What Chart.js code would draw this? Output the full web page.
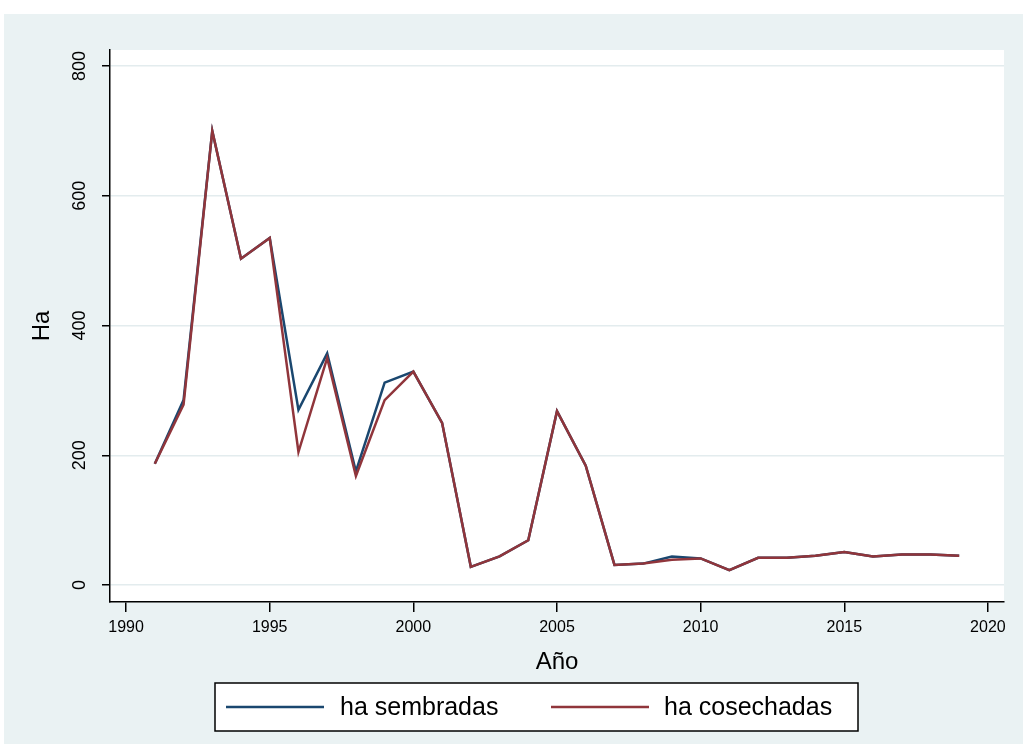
<!DOCTYPE html>
<html>
<head>
<meta charset="utf-8">
<script src="https://cdn.jsdelivr.net/npm/chart.js@4.4.1/dist/chart.umd.min.js"></script>
<style>
    html, body { margin: 0; padding: 0; background: #ffffff; }
    canvas { display: block; }
</style>
</head>
<body>
<canvas id="chart" width="1023" height="744"></canvas>
<script>
// values
var years      = [ 1991, 1992, 1993, 1994, 1995, 1996, 1997, 1998, 1999, 2000,
                   2001, 2002, 2003, 2004, 2005, 2006, 2007, 2008, 2009, 2010,
                   2011, 2012, 2013, 2014, 2015, 2016, 2017, 2018, 2019 ];
var sembradas  = [ 187, 285, 700, 503, 535, 270, 357, 175, 312, 329,
                   250, 28, 44, 69, 268, 184, 31, 33, 44, 41,
                   23, 42, 42, 45, 51, 44, 47, 47, 45 ];
var cosechadas = [ 187, 278, 700, 503, 535, 205, 350, 168, 285, 329,
                   250, 28, 44, 69, 268, 184, 31, 33, 39, 41,
                   23, 42, 42, 45, 51, 44, 47, 47, 45 ];
var xTicks = [ 1990, 1995, 2000, 2005, 2010, 2015, 2020 ];
var yTicks = [ 0, 200, 400, 600, 800 ];
var seriesNames  = [ 'ha sembradas', 'ha cosechadas' ];
var seriesColors = [ '#1a476f', '#90353b' ];

var FONT = '"Liberation Sans", Arial, sans-serif';
var BG   = '#eaf2f3';

function points( ys ) {
    return years.map( function( year, i ) { return { x: year, y: ys[ i ] }; } );
}

/** Stata style backgrounds: outer region and white plot region */
var backgroundPlugin = {
    id: 'background',
    beforeDraw: function( chart ) {
        var ctx = chart.ctx, area = chart.chartArea;
        ctx.save();
        ctx.fillStyle = '#ffffff';
        ctx.fillRect( 0, 0, chart.width, chart.height );
        ctx.fillStyle = BG;
        ctx.fillRect( 4, 14, chart.width - 4, chart.height - 14 );
        ctx.fillStyle = '#ffffff';
        ctx.fillRect( area.left, area.top, area.right - area.left, area.bottom - area.top );
        ctx.restore();
    }
};

/** Boxed legend below the x axis title */
var legendPlugin = {
    id: 'boxLegend',
    afterDraw: function( chart ) {
        var ctx = chart.ctx;
        var box = { x: 215, y: 683, w: 643, h: 48 };
        var items = [ { x0: 226, x1: 324, tx: 340 }, { x0: 551, x1: 649, tx: 664 } ];
        var cy = box.y + box.h / 2;
        ctx.save();
        ctx.fillStyle = '#ffffff';
        ctx.fillRect( box.x, box.y, box.w, box.h );
        ctx.strokeStyle = '#000000';
        ctx.lineWidth = 1.5;
        ctx.strokeRect( box.x, box.y, box.w, box.h );
        ctx.font = '25px ' + FONT;
        ctx.textBaseline = 'middle';
        chart.data.datasets.forEach( function( ds, i ) {
            var it = items[ i ];
            ctx.strokeStyle = ds.borderColor;
            ctx.lineWidth = 2.5;
            ctx.beginPath();
            ctx.moveTo( it.x0, cy );
            ctx.lineTo( it.x1, cy );
            ctx.stroke();
            ctx.fillStyle = '#000000';
            ctx.fillText( ds.label, it.tx, cy + 1 );
        });
        ctx.restore();
    }
};

new Chart( document.getElementById( 'chart' ), {
    type: 'line',
    data: {
        datasets: [ 0, 1 ].map( function( i ) {
            return {
                label       : seriesNames[ i ],
                data        : points( i === 0 ? sembradas : cosechadas ),
                borderColor : seriesColors[ i ],
                borderWidth : 2.5,
                pointRadius : 0,
                tension     : 0,
                fill        : false,
                // cosechadas is drawn over sembradas
                order       : 1 - i
            };
        })
    },
    options: {
        responsive: false,
        animation: false,
        events: [],
        layout: { padding: { top: 50, right: 19, bottom: 64, left: 0 } },
        plugins: { legend: { display: false }, tooltip: { enabled: false } },
        scales: {
            x: {
                type: 'linear',
                min: 1989.44,
                max: 2020.56,
                afterBuildTicks: function( scale ) {
                    scale.ticks = xTicks.map( function( v ) { return { value: v }; } );
                },
                afterFit: function( scale ) { scale.height = 78; },
                border: { display: true, color: '#000000', width: 1.5 },
                grid: { drawOnChartArea: false, tickColor: '#000000', tickLength: 10, lineWidth: 1.5 },
                ticks: {
                    color: '#000000',
                    font: { family: FONT, size: 16 },
                    padding: 6,
                    maxRotation: 0,
                    autoSkip: false,
                    callback: function( v ) { return String( v ); }
                },
                title: {
                    display: true,
                    text: 'Año',
                    color: '#000000',
                    font: { family: FONT, size: 24 },
                    padding: { top: 0, bottom: 3 }
                }
            },
            y: {
                type: 'linear',
                min: -26.2,
                max: 824.7,
                afterBuildTicks: function( scale ) {
                    scale.ticks = yTicks.map( function( v ) { return { value: v }; } );
                },
                afterFit: function( scale ) { scale.width = 110; },
                border: { display: true, color: '#000000', width: 1.5 },
                grid: { color: '#e3ecee', tickColor: '#000000', tickLength: 8, lineWidth: 1.5 },
                ticks: {
                    color: '#000000',
                    font: { family: FONT, size: 18 },
                    padding: 7,
                    minRotation: 90,
                    maxRotation: 90,
                    crossAlign: 'center',
                    autoSkip: false,
                    callback: function( v ) { return String( v ); }
                },
                title: {
                    display: true,
                    text: 'Ha',
                    color: '#000000',
                    font: { family: FONT, size: 24 },
                    padding: { top: 28, bottom: 0 }
                }
            }
        }
    },
    plugins: [ backgroundPlugin, legendPlugin ]
});
</script>
</body>
</html>
